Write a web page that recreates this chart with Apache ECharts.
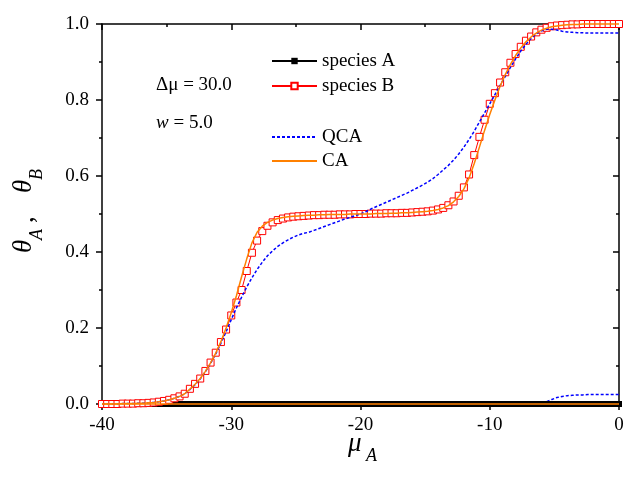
<!DOCTYPE html>
<html><head><meta charset="utf-8">
<script src="https://cdn.jsdelivr.net/npm/echarts@6/dist/echarts.min.js"></script>
<style>html,body{margin:0;padding:0;background:#fff}#c{width:625px;height:480px}</style>
</head><body><div id="c"></div>
<script>
// chemical potential of A (x values)
const mu = [-40,-39.6,-39.2,-38.8,-38.4,-38,-37.6,-37.2,-36.8,-36.4,-36,-35.6,-35.2,-34.8,-34.4,-34,-33.6,-33.2,-32.8,-32.4,-32,-31.6,-31.2,-30.8,-30.4,-30,-29.6,-29.2,-28.8,-28.4,-28,-27.6,-27.2,-26.8,-26.4,-26,-25.6,-25.2,-24.8,-24.4,-24,-23.6,-23.2,-22.8,-22.4,-22,-21.6,-21.2,-20.8,-20.4,-20,
  -19.6,-19.2,-18.8,-18.4,-18,-17.6,-17.2,-16.8,-16.4,-16,-15.6,-15.2,-14.8,-14.4,-14,-13.6,-13.2,-12.8,-12.4,-12,-11.6,-11.2,-10.8,-10.4,-10,-9.6,-9.2,-8.8,-8.4,-8,-7.6,-7.2,-6.8,-6.4,-6,-5.6,-5.2,-4.8,-4.4,-4,-3.6,-3.2,-2.8,-2.4,-2,-1.6,-1.2,-0.8,-0.4,0];

// simulation: species A coverage
const speciesA = [0,0,0,0,0,0,0,0,0,0,0,0,0,0,0,0,0,0,0,0,0,0,0,0,0,0,0,0,0,0,0,0,0,0,0,0,0,0,0,0,0,0,0,0,0,0,0,0,0,0,0,
  0,0,0,0,0,0,0,0,0,0,0,0,0,0,0,0,0,0,0,0,0,0,0,0,0,0,0,0,0,0,0,0,0,0,0,0,0,0,0,0,0,0,0,0,0,0,0,0,0,0];

// simulation: species B coverage
const speciesB = [0,0,0,0,0.001,0.001,0.001,0.002,0.002,0.003,0.004,0.006,0.008,0.011,0.015,0.020,0.027,0.040,0.053,0.067,0.087,0.109,0.135,0.163,0.196,0.233,0.267,0.300,0.350,0.398,0.430,0.455,0.469,0.478,0.484,0.488,0.491,0.493,0.494,0.495,0.496,0.497,0.497,0.498,0.498,0.498,0.499,0.499,0.499,0.500,0.500,
  0.500,0.501,0.501,0.501,0.502,0.502,0.502,0.503,0.503,0.504,0.505,0.506,0.507,0.509,0.512,0.516,0.523,0.533,0.548,0.570,0.604,0.655,0.703,0.748,0.790,0.818,0.846,0.873,0.898,0.921,0.940,0.956,0.967,0.978,0.985,0.990,0.994,0.996,0.997,0.998,0.999,0.999,1,1,1,1,1,1,1,1];

// QCA approximation
const qcaA = [0,0,0,0,0,0,0,0,0,0,0,0,0,0,0,0,0,0,0,0,0,0,0,0,0,0,0,0,0,0,0,0,0,0,0,0,0,0,0,0,0,0,0,0,0,0,0,0,0,0,0,
  0,0,0,0,0,0,0,0,0,0,0,0,0,0,0,0,0,0,0,0,0,0,0,0,0,0,0,0,0,0,0,0,0,0,0.002,0.006,0.012,0.017,0.020,0.022,0.023,0.024,0.024,0.025,0.025,0.025,0.025,0.025,0.025,0.025];
const qcaB = [0,0,0,0,0.001,0.001,0.001,0.002,0.002,0.003,0.004,0.006,0.008,0.011,0.015,0.020,0.027,0.038,0.051,0.066,0.085,0.107,0.132,0.160,0.190,0.222,0.253,0.281,0.308,0.332,0.354,0.373,0.390,0.403,0.415,0.424,0.432,0.439,0.445,0.449,0.452,0.457,0.462,0.467,0.472,0.477,0.482,0.487,0.491,0.496,0.500,
  0.506,0.513,0.519,0.525,0.531,0.537,0.543,0.549,0.555,0.562,0.569,0.576,0.584,0.593,0.604,0.616,0.628,0.642,0.658,0.676,0.696,0.718,0.742,0.766,0.790,0.814,0.838,0.862,0.886,0.908,0.929,0.947,0.962,0.974,0.982,0.986,0.986,0.984,0.981,0.979,0.978,0.977,0.977,0.976,0.976,0.976,0.976,0.976,0.976,0.976];

// CA approximation
const caA = [0,0,0,0,0,0,0,0,0,0,0,0,0,0,0,0,0,0,0,0,0,0,0,0,0,0,0,0,0,0,0,0,0,0,0,0,0,0,0,0,0,0,0,0,0,0,0,0,0,0,0,
  0,0,0,0,0,0,0,0,0,0,0,0,0,0,0,0,0,0,0,0,0,0,0,0,0,0,0,0,0,0,0,0,0,0,0,0,0,0,0,0,0,0,0,0,0,0,0,0,0,0];
const caB = [0,0,0,0,0.001,0.001,0.001,0.002,0.002,0.003,0.004,0.006,0.008,0.011,0.015,0.020,0.027,0.039,0.052,0.067,0.086,0.108,0.134,0.164,0.200,0.240,0.285,0.335,0.382,0.424,0.452,0.468,0.478,0.484,0.488,0.491,0.493,0.494,0.495,0.496,0.497,0.497,0.498,0.498,0.499,0.499,0.499,0.499,0.500,0.500,0.500,
  0.500,0.500,0.501,0.501,0.501,0.502,0.502,0.503,0.503,0.504,0.505,0.506,0.507,0.509,0.512,0.516,0.522,0.532,0.546,0.566,0.595,0.633,0.676,0.720,0.762,0.800,0.836,0.867,0.894,0.917,0.937,0.953,0.966,0.976,0.984,0.989,0.993,0.995,0.997,0.998,0.999,0.999,1,1,1,1,1,1,1,1];

// axis tick labels
const xTickLabels = [-40, -30, -20, -10, 0];
const yTickLabels = ['0.0', '0.2', '0.4', '0.6', '0.8', '1.0'];

const zip = (xs, ys) => xs.map((x, i) => [x, ys[i]]);
const SERIF = 'Liberation Serif';
const black = '#000';

const axLine = {show: true, onZero: false, lineStyle: {color: black, width: 1.5}};
const tickStyle = {color: black, width: 1.5};
const noSym = {color: 'rgba(0,0,0,0)', borderWidth: 0, opacity: 0};
const legendText = {color: black, fontFamily: SERIF, fontSize: 19, lineHeight: 20};

const chart = echarts.init(document.getElementById('c'), null, {renderer: 'canvas'});
chart.setOption({
  animation: false,
  backgroundColor: '#fff',
  grid: {left: 102, right: 6, top: 24, bottom: 76, containLabel: false, outerBoundsMode: 'none'},
  xAxis: [
    {type: 'value', position: 'bottom', min: xTickLabels[0], max: xTickLabels[xTickLabels.length - 1], interval: 10,
      axisLine: axLine, axisTick: {show: true, inside: false, length: 6, lineStyle: tickStyle},
      minorTick: {show: true, splitNumber: 2, length: 3, lineStyle: tickStyle},
      axisLabel: {color: black, fontFamily: SERIF, fontSize: 19, margin: 12},
      splitLine: {show: false}, minorSplitLine: {show: false}},
    {type: 'value', position: 'top', min: xTickLabels[0], max: xTickLabels[xTickLabels.length - 1], interval: 10,
      axisLine: axLine, axisTick: {show: true, inside: true, length: 6, lineStyle: tickStyle},
      minorTick: {show: true, splitNumber: 2, length: 3, lineStyle: tickStyle},
      axisLabel: {show: false}, splitLine: {show: false}}
  ],
  yAxis: [
    {type: 'value', position: 'left', min: 0, max: 1, interval: 0.2,
      axisLine: axLine, axisTick: {show: true, inside: false, length: 6, lineStyle: tickStyle},
      minorTick: {show: true, splitNumber: 2, length: 3, lineStyle: tickStyle},
      axisLabel: {color: black, fontFamily: SERIF, fontSize: 19, margin: 13,
        formatter: v => yTickLabels[Math.round(v / 0.2)]},
      splitLine: {show: false}},
    {type: 'value', position: 'right', min: 0, max: 1, interval: 0.2,
      axisLine: axLine, axisTick: {show: true, inside: true, length: 6, lineStyle: tickStyle},
      minorTick: {show: true, splitNumber: 2, length: 3, lineStyle: tickStyle},
      axisLabel: {show: false}, splitLine: {show: false}}
  ],
  legend: [
    {data: ['species A', 'species B'], orient: 'vertical', left: 271, top: 51, padding: 0, itemGap: 5,
      itemWidth: 45, itemHeight: 8, selectedMode: false, textStyle: legendText},
    {data: [{name: 'QCA', itemStyle: noSym}, {name: 'CA', itemStyle: noSym}], orient: 'vertical', left: 271, top: 127, padding: 0, itemGap: 4,
      itemWidth: 45, itemHeight: 8, selectedMode: false, textStyle: legendText}
  ],
  series: [
    {name: 'QCA', type: 'line', data: zip(mu, qcaA), symbol: 'none', clip: false, z: 2,
      lineStyle: {color: '#0000ff', width: 1.5, type: [3, 2]}, itemStyle: {color: '#0000ff'}},
    {name: 'species A', type: 'line', data: zip(mu, speciesA), symbol: 'rect', symbolSize: 6, clip: false, z: 3,
      lineStyle: {color: black, width: 1}, itemStyle: {color: black}},
    {name: 'species B', type: 'line', data: zip(mu, speciesB), symbol: 'rect', symbolSize: 7, clip: false, z: 4,
      lineStyle: {color: '#ff0000', width: 1}, itemStyle: {color: '#fff', borderColor: '#ff0000', borderWidth: 1}},
    {name: 'QCA', type: 'line', data: zip(mu, qcaB), symbol: 'none', clip: false, z: 5,
      lineStyle: {color: '#0000ff', width: 1.5, type: [3, 2]}, itemStyle: {color: '#0000ff'}},
    {name: 'CA', type: 'line', data: zip(mu, caA), symbol: 'none', clip: false, z: 6,
      lineStyle: {color: '#ff8000', width: 1.5}, itemStyle: {color: '#ff8000'}},
    {name: 'CA', type: 'line', data: zip(mu, caB), symbol: 'none', clip: false, z: 6,
      lineStyle: {color: '#ff8000', width: 1.5}, itemStyle: {color: '#ff8000'}}
  ],
  graphic: [
    {type: 'text', x: 156, y: 85, style: {text: 'Δμ = 30.0', fontFamily: SERIF, fontSize: 19, fill: black, align: 'left', verticalAlign: 'middle'}},
    {type: 'text', x: 156, y: 123, style: {text: '{i|w} = 5.0', fontFamily: SERIF, fontSize: 19, fill: black, align: 'left', verticalAlign: 'middle',
      rich: {i: {fontFamily: SERIF, fontSize: 19, fontStyle: 'italic', fill: black}}}},
    {type: 'text', x: 348, y: 444, style: {text: 'μ', fontFamily: SERIF, fontSize: 27, fontStyle: 'italic', fill: black, align: 'left', verticalAlign: 'middle'}},
    {type: 'text', x: 366, y: 456, style: {text: 'A', fontFamily: SERIF, fontSize: 18, fontStyle: 'italic', fill: black, align: 'left', verticalAlign: 'middle'}},
    {type: 'group', x: 24, y: 253, rotation: Math.PI / 2, children: [
      {type: 'text', x: 0, y: 0, style: {text: 'θ', fontFamily: SERIF, fontSize: 27, fontStyle: 'italic', fill: black, align: 'left', verticalAlign: 'middle'}},
      {type: 'text', x: 13, y: 13, style: {text: 'A', fontFamily: SERIF, fontSize: 18, fontStyle: 'italic', fill: black, align: 'left', verticalAlign: 'middle'}},
      {type: 'text', x: 30, y: 2, style: {text: ',', fontFamily: SERIF, fontSize: 27, fill: black, align: 'left', verticalAlign: 'middle'}},
      {type: 'text', x: 60, y: 0, style: {text: 'θ', fontFamily: SERIF, fontSize: 27, fontStyle: 'italic', fill: black, align: 'left', verticalAlign: 'middle'}},
      {type: 'text', x: 73, y: 13, style: {text: 'B', fontFamily: SERIF, fontSize: 18, fontStyle: 'italic', fill: black, align: 'left', verticalAlign: 'middle'}}
    ]}
  ]
});
</script></body></html>
